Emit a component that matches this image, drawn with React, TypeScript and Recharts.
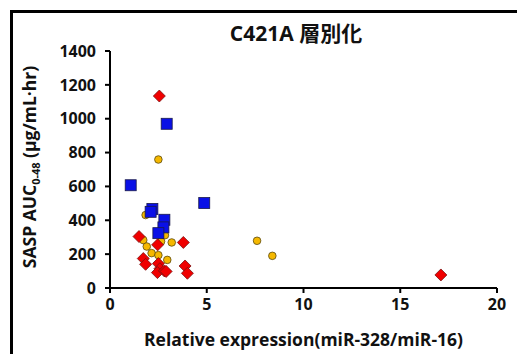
import { ScatterChart, Scatter, XAxis, YAxis } from 'recharts';

// values
const redX = [2.55, 1.5, 2.46, 3.79, 1.72, 1.84, 2.5, 2.58, 2.45, 2.81, 2.9, 3.88, 4.0, 17.1];
const redY = [1134, 304, 255, 269, 174, 140, 144, 114, 91, 101, 98, 130, 87, 77];

const yellowX = [2.5, 1.84, 1.72, 1.9, 2.15, 2.5, 2.64, 2.84, 3.19, 2.96, 7.6, 8.39];
const yellowY = [759, 431, 283, 245, 206, 194, 275, 312, 269, 166, 279, 190];

const blueX = [2.93, 1.07, 2.19, 2.1, 4.87, 2.81, 2.76, 2.5];
const blueY = [970, 607, 467, 450, 502, 403, 358, 324];

const xTicks = [0, 5, 10, 15, 20];
const yTicks = [0, 200, 400, 600, 800, 1000, 1200, 1400];

const toPoints = (xs: number[], ys: number[]) => xs.map((x, i) => ({ x, y: ys[i] }));

const redData = toPoints(redX, redY);
const yellowData = toPoints(yellowX, yellowY);
const blueData = toPoints(blueX, blueY);

const FONT = '"Open Sans", "Noto Sans CJK JP", sans-serif';

const Diamond = ({ cx, cy }: any) => (
  <polygon
    points={`${cx},${cy - 6} ${cx + 6},${cy} ${cx},${cy + 6} ${cx - 6},${cy}`}
    fill="#F00000"
    stroke="#7A1010"
    strokeWidth={0.8}
  />
);

const Square = ({ cx, cy }: any) => (
  <rect x={cx - 5.5} y={cy - 5.5} width={11} height={11} fill="#0A10E6" stroke="#1A1A4A" strokeWidth={0.8} />
);

const Dot = ({ cx, cy }: any) => (
  <circle cx={cx} cy={cy} r={3.8} fill="#F5B800" stroke="#5A4A10" strokeWidth={0.8} />
);

const tickStyle = { fill: '#111', fontSize: 16, fontWeight: 700, fontFamily: FONT };

export default function App() {
  return (
    <div style={{ position: 'absolute', left: 0, top: 0, width: 517, height: 354, background: '#fff', overflow: 'hidden' }}>
      {/* outer frame */}
      <div style={{ position: 'absolute', left: 10, top: 10, width: 540, height: 380, border: '3px solid #000' }} />
      <div
        style={{
          position: 'absolute', left: 0, width: 592, top: 18, textAlign: 'center',
          fontFamily: FONT, fontWeight: 700, fontSize: 21, lineHeight: '30px', color: '#111',
        }}
      >
        C421A 層別化
      </div>
      <div style={{ position: 'absolute', left: 0, top: 0 }}>
        <ScatterChart width={517} height={354} margin={{ top: 51, right: 20, bottom: 36, left: 50 }}>
          <XAxis
            type="number"
            dataKey="x"
            domain={[0, 20]}
            ticks={xTicks}
            height={30}
            axisLine={{ stroke: '#000', strokeWidth: 2 }}
            tickLine={{ stroke: '#000', strokeWidth: 2 }}
            tickSize={5}
            tick={tickStyle}
            tickMargin={6}
            label={{
              value: 'Relative expression(miR-328/miR-16)',
              position: 'insideBottom',
              offset: -28,
              style: { fill: '#111', fontSize: 17.5, fontWeight: 700, fontFamily: FONT },
            }}
          />
          <YAxis
            type="number"
            dataKey="y"
            domain={[0, 1400]}
            ticks={yTicks}
            width={60}
            axisLine={{ stroke: '#000', strokeWidth: 2 }}
            tickLine={{ stroke: '#000', strokeWidth: 2 }}
            tickSize={5}
            tick={tickStyle}
            tickMargin={9}
            label={{
              content: () => (
                <text
                  x={36}
                  y={167}
                  transform="rotate(-90 36 167)"
                  textAnchor="middle"
                  style={{ fill: '#111', fontSize: 17.5, fontWeight: 700, fontFamily: FONT }}
                >
                  SASP AUC
                  <tspan fontSize={11} dy={4}>0-48</tspan>
                  <tspan dy={-4}> (μg/mL·hr)</tspan>
                </text>
              ),
            }}
          />
          <Scatter data={yellowData} shape={<Dot />} isAnimationActive={false} />
          <Scatter data={redData} shape={<Diamond />} isAnimationActive={false} />
          <Scatter data={blueData} shape={<Square />} isAnimationActive={false} />
        </ScatterChart>
      </div>
    </div>
  );
}
